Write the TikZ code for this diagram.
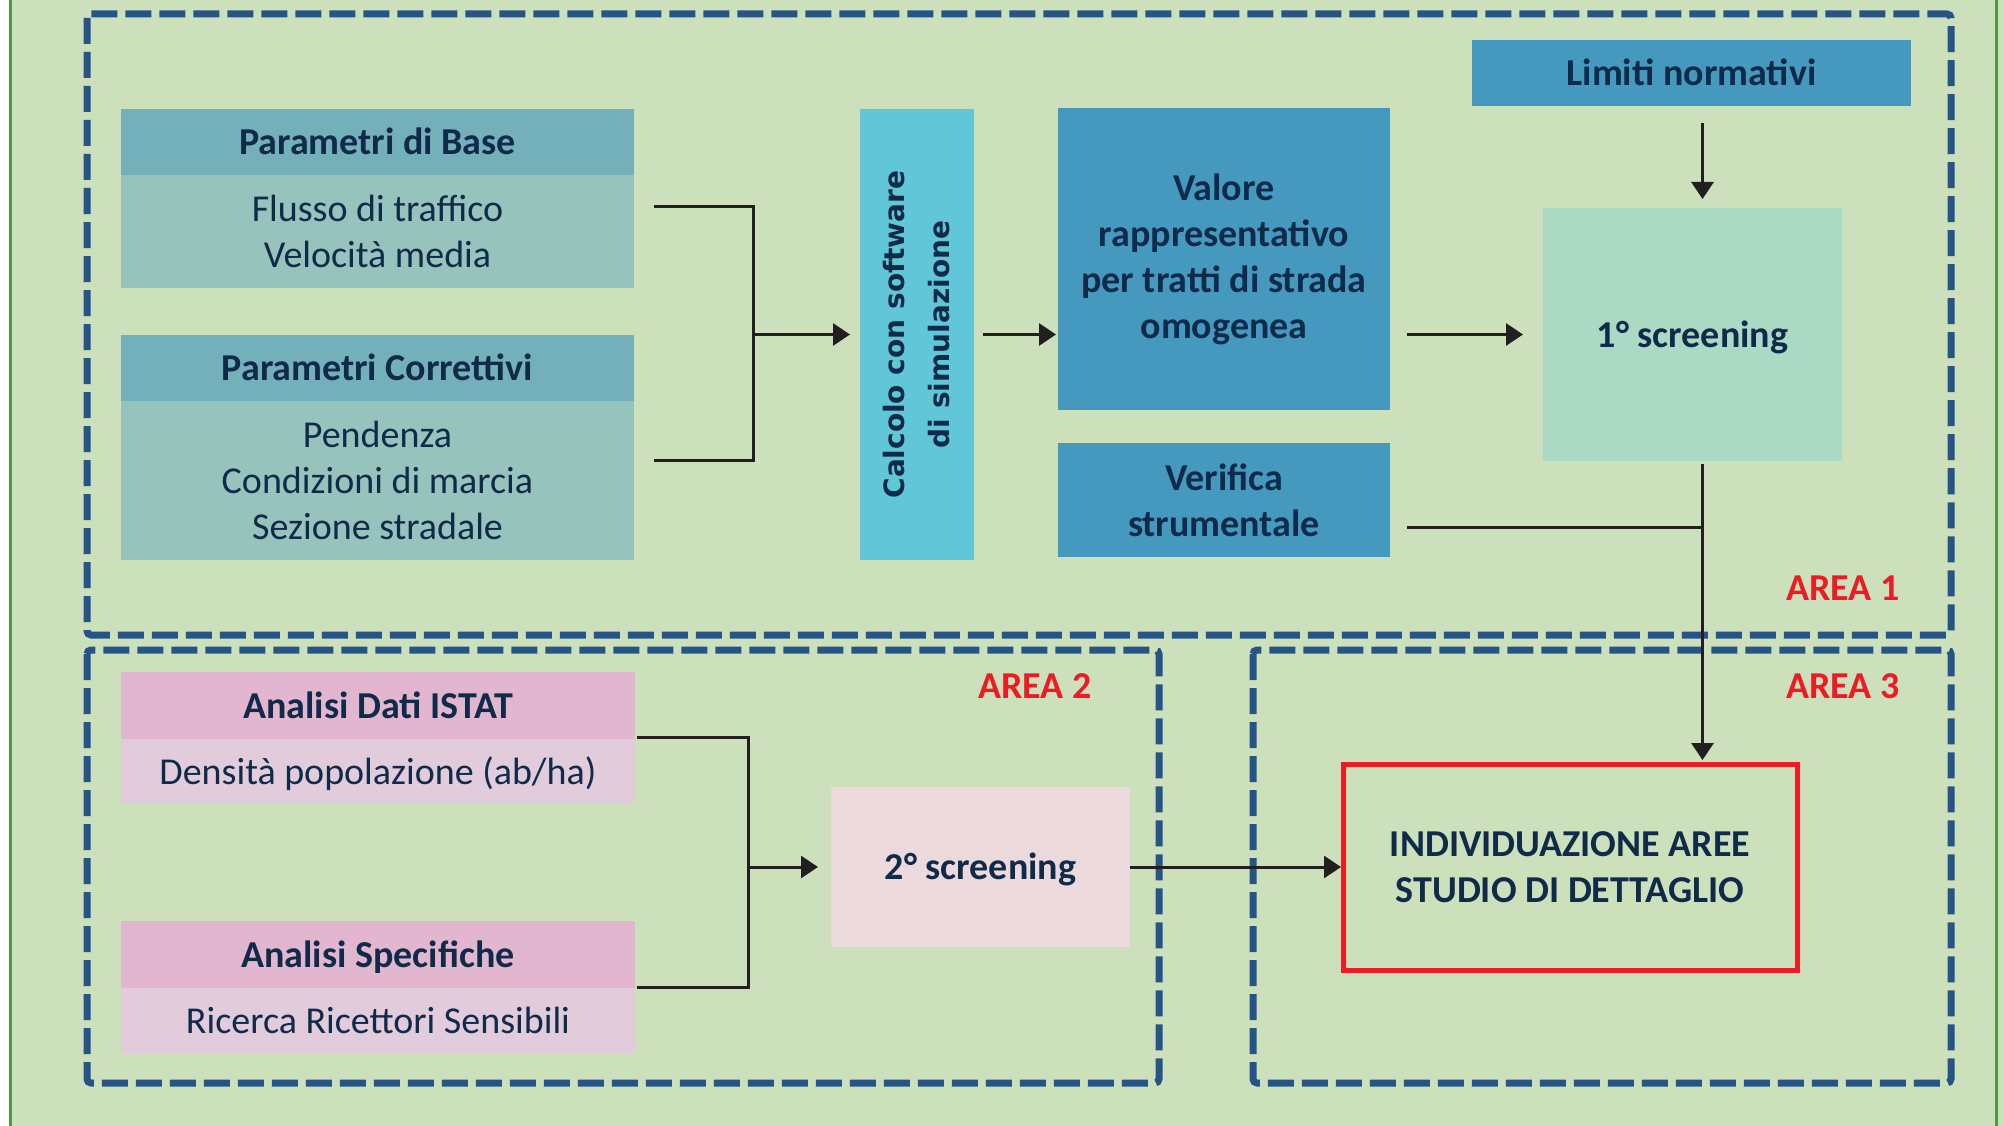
\documentclass[tikz,border=0pt]{standalone}
\usepackage{fontspec}
\setmainfont{Carlito}
\newfontfamily\rotfont{DejaVu Sans}
\usetikzlibrary{arrows.meta,calc}

\definecolor{bgfill}{RGB}{204,225,187}
\definecolor{framegreen}{RGB}{76,154,66}
\definecolor{dashblue}{RGB}{38,84,135}
\definecolor{navy}{RGB}{16,42,74}
\definecolor{tealhead}{RGB}{116,176,186}
\definecolor{tealbody}{RGB}{150,195,188}
\definecolor{calccyan}{RGB}{96,198,216}
\definecolor{midblue}{RGB}{69,153,190}
\definecolor{mint}{RGB}{170,218,196}
\definecolor{pinkhead}{RGB}{227,182,207}
\definecolor{pinkbody}{RGB}{226,204,220}
\definecolor{scrpink}{RGB}{236,217,220}
\definecolor{alertred}{RGB}{237,28,36}
\definecolor{linkblack}{RGB}{35,31,32}

\tikzset{
  box/.style={rectangle, inner sep=0pt, outer sep=0pt, anchor=north west,
    text=navy, align=center, font=\fontsize{38}{46}\selectfont},
  boldbox/.style={box, font=\bfseries\fontsize{38}{46}\selectfont},
  % single text lines are centred on their capitals
  oneline/.style={text height=33pt, text depth=8pt},
  areadash/.style={draw=dashblue, line width=7pt, dash pattern=on 26pt off 8pt,
    rounded corners=4pt},
  arealbl/.style={oneline, inner sep=0pt, text=alertred, anchor=east,
    font=\bfseries\fontsize{38}{46}\selectfont},
  conn/.style={draw=linkblack, line width=3pt},
  arr/.style={conn, -{Triangle[length=17pt,width=22pt]}}
}

\begin{document}
\begin{tikzpicture}[x=1pt,y=-1pt]
\useasboundingbox (0,0) rectangle (2004,1126);
% page background and side rules
\fill[white] (0,0) rectangle (2004,1126);
\fill[bgfill] (9,-5) rectangle (2010,1131);
\draw[framegreen, line width=3.5pt] (10.5,-5) -- (10.5,1131);
\draw[framegreen, line width=3.5pt] (1996.5,-5) -- (1996.5,1131);

% dashed area frames
\draw[areadash] (87,14) rectangle (1951,635);
\draw[areadash] (87,650) rectangle (1159,1083);
\draw[areadash] (1253,650) rectangle (1951,1083);

% area labels
\node[arealbl] (lblA) at (1900,588) {AREA 1};
\node[arealbl] (lblB) at (1092,686) {AREA 2};
\node[arealbl] (lblC) at (1900,686) {AREA 3};

% area 1: input parameters
\node[boldbox, oneline, fill=tealhead, minimum width=513pt, minimum height=66pt] (pbh) at (121,109) {Parametri di Base};
\node[box, fill=tealbody, minimum width=513pt, minimum height=113pt] (pbb) at (121,175) {Flusso di traffico\\Velocità media};
\node[boldbox, oneline, fill=tealhead, minimum width=513pt, minimum height=66pt] (pch) at (121,335) {Parametri Correttivi};
\node[box, fill=tealbody, minimum width=513pt, minimum height=159pt] (pcb) at (121,401) {Pendenza\\Condizioni di marcia\\Sezione stradale};

% simulation step
\node[box, fill=calccyan, minimum width=114pt, minimum height=451pt] (calc) at (860,109) {};
\node[rotate=90, inner sep=0pt, text=navy, align=center,
  font=\rotfont\bfseries\fontsize{28}{45}\selectfont] (calctext) at (calc.center)
  {Calcolo con software\\di simulazione};

% results
\node[boldbox, fill=midblue, minimum width=332pt, minimum height=302pt] (val) at (1058,108) {Valore\\rappresentativo\\per tratti di strada\\omogenea};
\node[boldbox, fill=midblue, minimum width=332pt, minimum height=114pt] (ver) at (1058,443) {Verifica\\strumentale};
\node[boldbox, oneline, fill=midblue, minimum width=439pt, minimum height=66pt] (lim) at (1472,40) {Limiti normativi};
\node[boldbox, oneline, fill=mint, minimum width=299pt, minimum height=253pt] (scr1) at (1543,208) {1° screening};

% area 2
\node[boldbox, oneline, fill=pinkhead, minimum width=514pt, minimum height=67pt] (ish) at (121,672) {Analisi Dati ISTAT};
\node[box, oneline, fill=pinkbody, minimum width=514pt, minimum height=65pt] (isb) at (121,739) {Densità popolazione (ab/ha)};
\node[boldbox, oneline, fill=pinkhead, minimum width=514pt, minimum height=67pt] (sph) at (121,921) {Analisi Specifiche};
\node[box, oneline, fill=pinkbody, minimum width=514pt, minimum height=65pt] (spb) at (121,988) {Ricerca Ricettori Sensibili};
\node[boldbox, oneline, fill=scrpink, minimum width=299pt, minimum height=160pt] (scr2) at (831,787) {2° screening};

% area 3
\node[boldbox, draw=alertred, line width=5pt, minimum width=454pt, minimum height=206pt] (ind) at (1343,764) {INDIVIDUAZIONE AREE\\STUDIO DI DETTAGLIO};

% connectors, area 1
\coordinate (jA) at ([xshift=-107pt]calc.west);
\draw[conn] ($(pbb.east)+(20,-25)$) -| (jA) |- ($(pcb.east)+(20,-20)$);
\draw[arr] (jA) -- ([xshift=-10pt]calc.west);
\draw[arr] ([xshift=9pt]calc.east) -- ([xshift=-2pt]calc.east -| val.west);
\draw[arr] ([xshift=17pt]val.east |- scr1.west) -- ([xshift=-20pt]scr1.west);
\coordinate (lx) at ([xshift=11pt]lim.south);
\draw[arr] ([yshift=-17pt]lx) -- ([yshift=9pt]lx |- scr1.north);
\draw[arr] ([yshift=-3pt]lx |- scr1.south) -- ([yshift=4pt]lx |- ind.north);
\coordinate (vr) at ($(ver.east)+(17,27)$);
\draw[conn] (vr) -- ([xshift=1.5pt]lx |- vr);

% connectors, area 2
\coordinate (jB) at ([xshift=-83pt]scr2.west);
\draw[conn] ($(ish.south east)+(2,-2)$) -| (jB) |- ($(sph.south east)+(2,-1)$);
\draw[arr] (jB) -- ([xshift=-13pt]scr2.west);
\draw[arr] (scr2.east) -- ([xshift=-2pt]ind.west);
\end{tikzpicture}
\end{document}
